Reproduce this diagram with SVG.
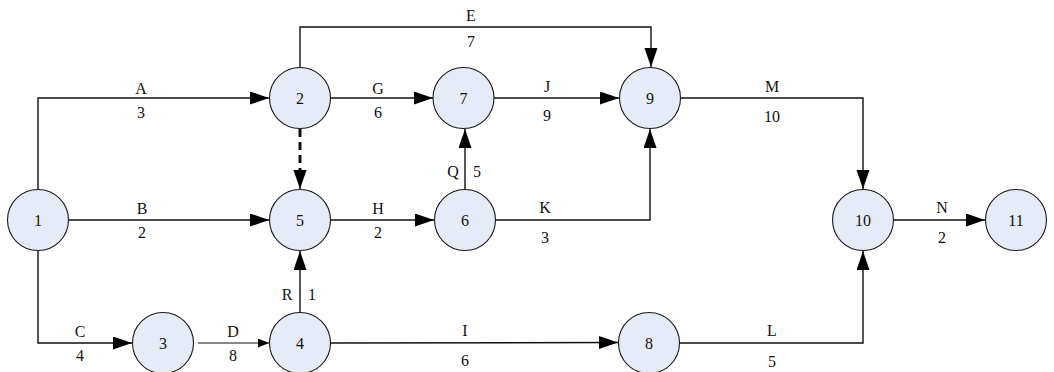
<svg xmlns="http://www.w3.org/2000/svg" width="1054" height="372" viewBox="0 0 1054 372">
<style>
.n circle{fill:#E6ECF7;stroke:#1a1a1a;stroke-width:1.1}
.n text,.lbl text{font-family:"Liberation Serif","Times New Roman",serif;font-size:16px;fill:#111;text-anchor:middle}
.c{fill:none;stroke:#111;stroke-width:1.4}
.thin{stroke-width:1}
.dash{stroke-width:3;stroke-dasharray:8 5}
</style>
<defs>
<marker id="ah" markerUnits="userSpaceOnUse" markerWidth="20" markerHeight="14" refX="19" refY="6.5" orient="auto"><path d="M0,0 L19,6.5 L0,13 z" fill="#000"/></marker>
<marker id="as" markerUnits="userSpaceOnUse" markerWidth="12" markerHeight="10" refX="11" refY="4.5" orient="auto"><path d="M0,0 L11,4.5 L0,9 z" fill="#000"/></marker>
</defs>
<rect width="1054" height="372" fill="#fff"/>
<g id="connectors">
<path class="c" d="M38,190 V98 H269" marker-end="url(#ah)"/>
<path class="c" d="M300,68 V27 H651 V67" marker-end="url(#ah)"/>
<path class="c" d="M330,98 H433" marker-end="url(#ah)"/>
<path class="c" d="M494,98 H619" marker-end="url(#ah)"/>
<path class="c" d="M680,98 H863 V189" marker-end="url(#ah)"/>
<path class="c dash" d="M300,129 V170"/>
<path class="c" d="M300,168 V189" marker-end="url(#ah)"/>
<path class="c" d="M69,220 H269" marker-end="url(#ah)"/>
<path class="c" d="M330,220 H434" marker-end="url(#ah)"/>
<path class="c" d="M465,190 V129" marker-end="url(#ah)"/>
<path class="c" d="M496,220 H650 V129" marker-end="url(#ah)"/>
<path class="c" d="M38,250 V343 H132" marker-end="url(#ah)"/>
<path class="c thin" d="M198,343 H269" marker-end="url(#as)"/>
<path class="c" d="M300,313 V251" marker-end="url(#ah)"/>
<path class="c" d="M331,343 L618,342.5" marker-end="url(#ah)"/>
<path class="c" d="M680,343 H863 V251" marker-end="url(#ah)"/>
<path class="c" d="M894,220 H985" marker-end="url(#ah)"/>
</g>
<g class="lbl">
<text x="141" y="94">A</text><text x="141" y="118">3</text>
<text x="471" y="21">E</text><text x="471" y="47">7</text>
<text x="378" y="94">G</text><text x="378" y="118">6</text>
<text x="547" y="92">J</text><text x="547" y="121">9</text>
<text x="772" y="92">M</text><text x="772" y="122">10</text>
<text x="142" y="214">B</text><text x="142" y="238">2</text>
<text x="378" y="214">H</text><text x="378" y="238">2</text>
<text x="453" y="177">Q</text><text x="477" y="177">5</text>
<text x="545" y="213">K</text><text x="545" y="243">3</text>
<text x="80" y="337">C</text><text x="80" y="361">4</text>
<text x="233" y="337">D</text><text x="233" y="361">8</text>
<text x="287" y="300">R</text><text x="312" y="300">1</text>
<text x="465" y="336">I</text><text x="465" y="366">6</text>
<text x="772" y="336">L</text><text x="772" y="367">5</text>
<text x="942" y="213">N</text><text x="942" y="243">2</text>
</g>
<g id="node1" class="n"><circle cx="38" cy="220" r="30.5"/><text x="38" y="225.5">1</text></g>
<g id="node2" class="n"><circle cx="300" cy="98" r="30.5"/><text x="300" y="103.5">2</text></g>
<g id="node3" class="n"><circle cx="163" cy="343" r="30.5"/><text x="163" y="348.5">3</text></g>
<g id="node4" class="n"><circle cx="300" cy="343" r="30.5"/><text x="300" y="348.5">4</text></g>
<g id="node5" class="n"><circle cx="300" cy="220" r="30.5"/><text x="300" y="225.5">5</text></g>
<g id="node6" class="n"><circle cx="465" cy="220" r="30.5"/><text x="465" y="225.5">6</text></g>
<g id="node7" class="n"><circle cx="463.5" cy="98" r="30.5"/><text x="463.5" y="103.5">7</text></g>
<g id="node8" class="n"><circle cx="649" cy="343" r="30.5"/><text x="649" y="348.5">8</text></g>
<g id="node9" class="n"><circle cx="650" cy="98" r="30.5"/><text x="650" y="103.5">9</text></g>
<g id="node10" class="n"><circle cx="863" cy="220" r="30.5"/><text x="863" y="225.5">10</text></g>
<g id="node11" class="n"><circle cx="1016" cy="220" r="30.5"/><text x="1016" y="225.5">11</text></g>
</svg>
